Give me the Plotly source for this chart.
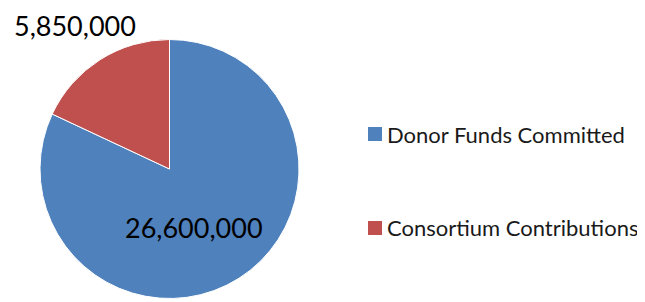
import plotly.graph_objects as go

labels = ["Donor Funds Committed", "Consortium Contributions"]
values = [26600000, 5850000]
colors = ["#4F81BD", "#C0504D"]

W, H = 645, 302
# the page adds an 8px body margin; positions below are expressed in
# screenshot pixels and shifted by this offset
OX, OY = 8, 8
font_family = "Lato, Open Sans, sans-serif"


def px(x):
    return (x - OX) / W


def py(y):
    return (H - (y - OY)) / H


# pie: centre (169.5, 169), radius 129.5 in screenshot pixels
cx, cy, r = 169.5, 169.0, 129.5

fig = go.Figure(go.Pie(
    labels=labels,
    values=values,
    sort=False,
    direction="clockwise",
    rotation=0,
    automargin=False,
    marker=dict(colors=colors, line=dict(color="white", width=1)),
    textinfo="none",
    showlegend=False,
    hoverinfo="label+value+percent",
    domain=dict(x=[px(cx - r), px(cx + r)], y=[py(cy + r), py(cy - r)]),
))

# data labels (values formatted from the data)
label_pos = [(194, 228), (75, 26)]
for v, (lx, ly) in zip(values, label_pos):
    fig.add_annotation(x=px(lx), y=py(ly), xref="paper", yref="paper",
                       text=f"{v:,}", showarrow=False,
                       xanchor="center", yanchor="middle",
                       font=dict(family=font_family, size=27, color="black"))

# legend drawn as squares + labels (vertical spacing as in the reference)
legend_y = [134, 228]
for lab, col, y in zip(labels, colors, legend_y):
    fig.add_shape(type="rect", xref="paper", yref="paper",
                  x0=px(368), x1=px(382), y0=py(y + 7), y1=py(y - 7),
                  fillcolor=col, line=dict(width=0))
    fig.add_annotation(x=px(385), y=py(y), xref="paper", yref="paper",
                       text=lab, showarrow=False, xanchor="left", yanchor="middle",
                       font=dict(family=font_family, size=22, color="#1a1a1a"))

fig.update_layout(
    width=W, height=H,
    margin=dict(l=0, r=0, t=0, b=0, pad=0, autoexpand=False),
    paper_bgcolor="white", plot_bgcolor="white",
)

fig.write_html("out.html")
